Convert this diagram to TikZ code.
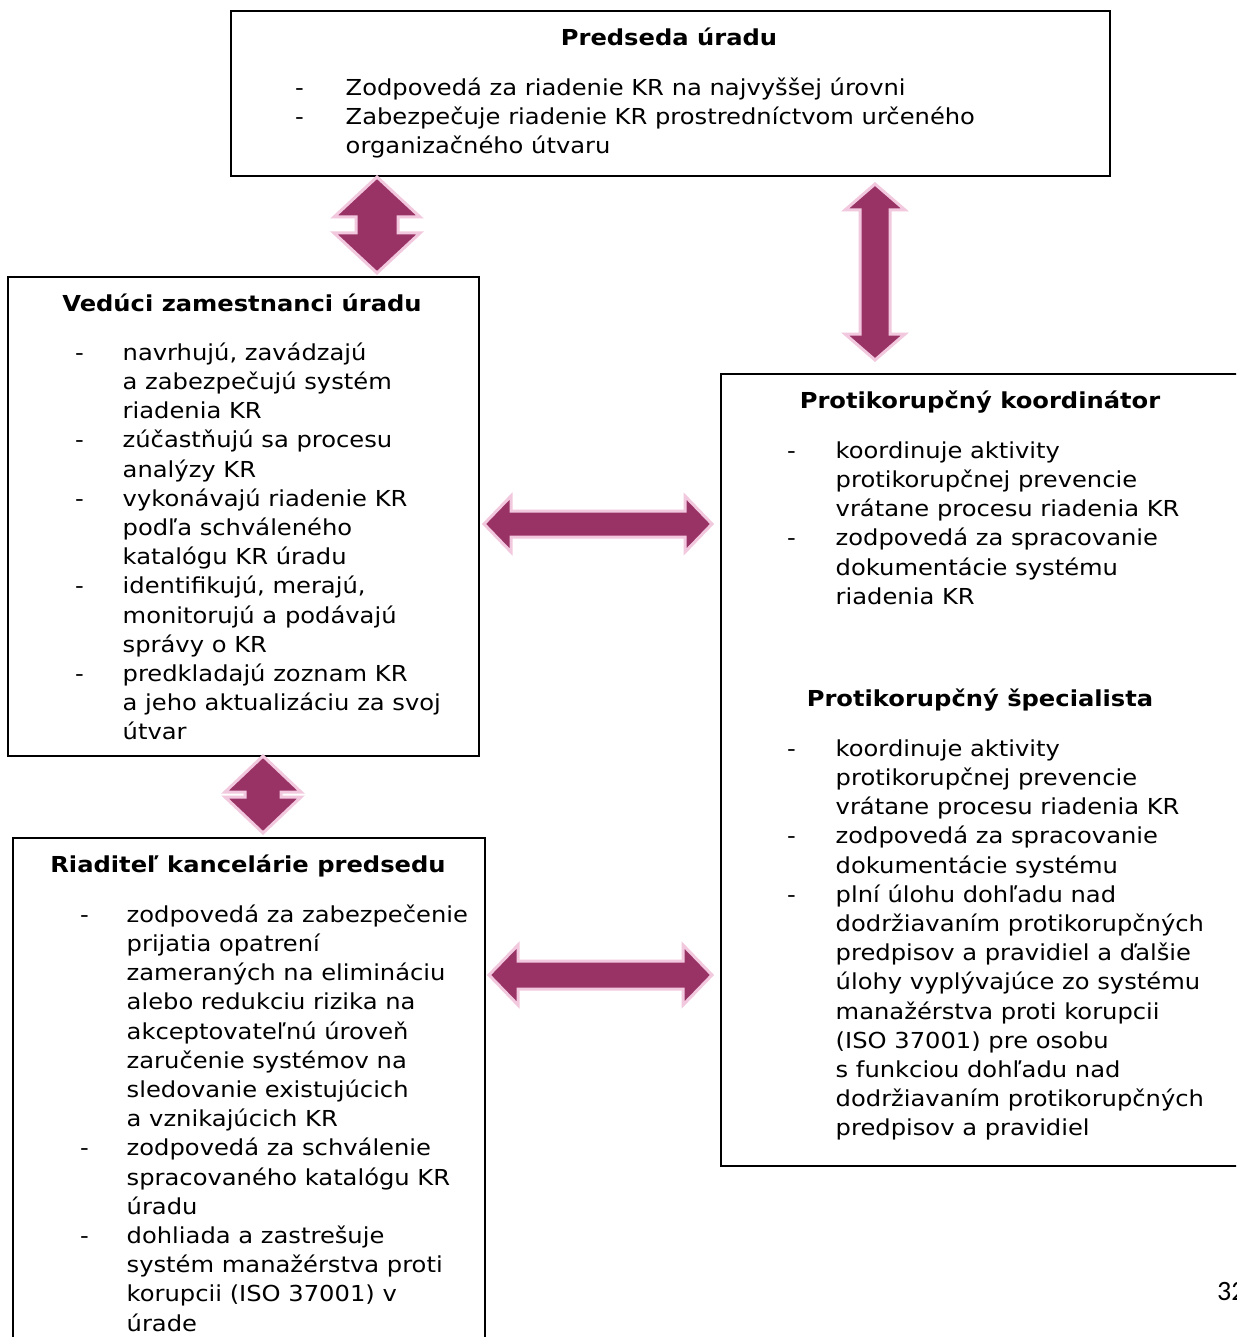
\documentclass[tikz,border=0pt]{standalone}
\usepackage{fontspec}
\setmainfont{DejaVu Sans}[FakeStretch=1.1]
\newfontfamily\pagefont{Carlito}
\usepackage{array}
\definecolor{plum}{RGB}{153,51,102}
\definecolor{pinkedge}{RGB}{242,200,222}
\newcommand\bodysize{\fontsize{22}{29.2}\selectfont}
% vertical double block arrow: cx, ytop, ybot, head half width, shaft half width, head length
\newcommand\vbiarrow[6]{%
  \filldraw[barrow] (#1,#2) -- ({#1+#4},{#2+#6}) -- ({#1+#5},{#2+#6}) -- ({#1+#5},{#3-#6})
    -- ({#1+#4},{#3-#6}) -- (#1,#3) -- ({#1-#4},{#3-#6}) -- ({#1-#5},{#3-#6})
    -- ({#1-#5},{#2+#6}) -- ({#1-#4},{#2+#6}) -- cycle;}
% horizontal double block arrow: cy, xleft, xright, head half height, shaft half height, head length
\newcommand\hbiarrow[6]{%
  \filldraw[barrow] (#2,#1) -- ({#2+#6},{#1-#4}) -- ({#2+#6},{#1-#5}) -- ({#3-#6},{#1-#5})
    -- ({#3-#6},{#1-#4}) -- (#3,#1) -- ({#3-#6},{#1+#4}) -- ({#3-#6},{#1+#5})
    -- ({#2+#6},{#1+#5}) -- ({#2+#6},{#1+#4}) -- cycle;}
\begin{document}
\begin{tikzpicture}[x=1pt,y=-1pt,
  box/.style={draw=black, line width=2pt, anchor=north west, inner sep=0pt},
  ttl/.style={font=\bodysize\bfseries, anchor=base, inner sep=0pt},
  lst/.style={font=\bodysize, anchor=north west, inner sep=0pt, align=left},
  barrow/.style={fill=plum, draw=pinkedge, line width=3pt, line join=miter}]
\useasboundingbox (0,0) rectangle (1236,1337);
\clip (0,0) rectangle (1236,1337);
\fill[white] (0,0) rectangle (1236,1337);

% boxes
\node[box, minimum width=879pt, minimum height=165pt] (predseda) at (230,10) {};
\node[box, minimum width=471pt, minimum height=479pt] (veduci) at (7,276) {};
\node[box, minimum width=472pt, minimum height=520pt] (riaditel) at (12,837) {};
\node[box, minimum width=530pt, minimum height=792pt] (protik) at (720,373) {};

% titles
\node[ttl] (t1) at (669,46) {Predseda úradu};
\node[ttl] (t2) at (242,311) {Vedúci zamestnanci úradu};
\node[ttl] (t3) at (248,872) {Riaditeľ kancelárie predsedu};
\node[ttl] (t4) at (980,408) {Protikorupčný koordinátor};
\node[ttl] (t5) at (980,706) {Protikorupčný špecialista};

% lists
\node[lst] (l1) at (295,{95-20.44}) {\begin{tabular}{@{}p{50.5pt}@{}l@{}}
-&Zodpovedá za riadenie KR na najvyššej úrovni\\
-&Zabezpečuje riadenie KR prostredníctvom určeného\\
&organizačného útvaru\end{tabular}};

\node[lst] (l2) at (75,{360-20.44}) {\begin{tabular}{@{}p{47.5pt}@{}l@{}}
-&navrhujú, zavádzajú\\
&a zabezpečujú systém\\
&riadenia KR\\
-&zúčastňujú sa procesu\\
&analýzy KR\\
-&vykonávajú riadenie KR\\
&podľa schváleného\\
&katalógu KR úradu\\
-&identifikujú, merajú,\\
&monitorujú a podávajú\\
&správy o KR\\
-&predkladajú zoznam KR\\
&a jeho aktualizáciu za svoj\\
&útvar\end{tabular}};

\node[lst] (l3) at (80,{922-20.44}) {\begin{tabular}{@{}p{46.5pt}@{}l@{}}
-&zodpovedá za zabezpečenie\\
&prijatia opatrení\\
&zameraných na elimináciu\\
&alebo redukciu rizika na\\
&akceptovateľnú úroveň\\
&zaručenie systémov na\\
&sledovanie existujúcich\\
&a vznikajúcich KR\\
-&zodpovedá za schválenie\\
&spracovaného katalógu KR\\
&úradu\\
-&dohliada a zastrešuje\\
&systém manažérstva proti\\
&korupcii (ISO 37001) v\\
&úrade\end{tabular}};

\node[lst] (l4) at (787,{458-20.44}) {\begin{tabular}{@{}p{48.5pt}@{}l@{}}
-&koordinuje aktivity\\
&protikorupčnej prevencie\\
&vrátane procesu riadenia KR\\
-&zodpovedá za spracovanie\\
&dokumentácie systému\\
&riadenia KR\end{tabular}};

\node[lst] (l5) at (787,{756-20.44}) {\begin{tabular}{@{}p{48.5pt}@{}l@{}}
-&koordinuje aktivity\\
&protikorupčnej prevencie\\
&vrátane procesu riadenia KR\\
-&zodpovedá za spracovanie\\
&dokumentácie systému\\
-&plní úlohu dohľadu nad\\
&dodržiavaním protikorupčných\\
&predpisov a pravidiel a ďalšie\\
&úlohy vyplývajúce zo systému\\
&manažérstva proti korupcii\\
&(ISO 37001) pre osobu\\
&s funkciou dohľadu nad\\
&dodržiavaním protikorupčných\\
&predpisov a pravidiel\end{tabular}};

% page number (cut by the page edge, as in the reference)
\node[anchor=base west, inner sep=0pt, font=\pagefont\fontsize{28}{30}\selectfont] (pg) at (1217,1300) {32};

% block arrows
\vbiarrow{377}{177}{273}{43}{21}{40}
\vbiarrow{875}{184}{360}{30}{15}{26}
\vbiarrow{263}{756}{833}{38}{18}{36}
\hbiarrow{524}{484}{712}{28}{13}{27}
\hbiarrow{975}{489}{712}{30}{14}{29}
\end{tikzpicture}
\end{document}
